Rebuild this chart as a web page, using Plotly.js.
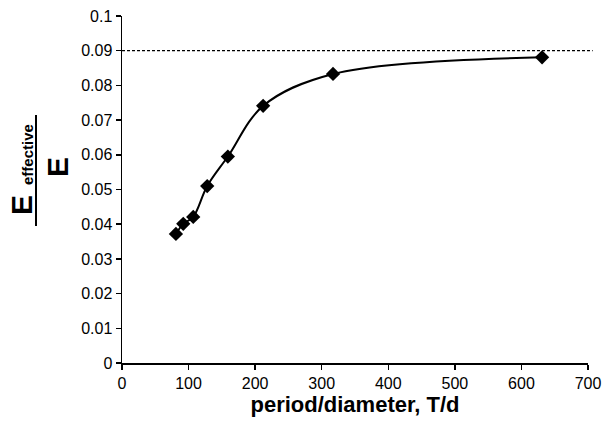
<!DOCTYPE html>
<html><head><meta charset="utf-8">
<script src="https://cdn.plot.ly/plotly-3.0.1.min.js"></script>
<style>html,body{margin:0;padding:0;background:#fff}#chart{width:602px;height:430px}</style>
</head><body><div id="chart"></div>
<script>
// Data
const periodDiameter = [81, 92, 107, 128, 159, 212, 317, 631];
const ratio = [0.0372, 0.0401, 0.0421, 0.0510, 0.0595, 0.0741, 0.0833, 0.0881];
const asymptote = 0.09;
const xTicks = [0, 100, 200, 300, 400, 500, 600, 700];
const yTicks = [0, 0.01, 0.02, 0.03, 0.04, 0.05, 0.06, 0.07, 0.08, 0.09, 0.1];

const L = 122, R = 14, T = 16, B = 67, W = 602, H = 430;
const pw = W - L - R, ph = H - T - B;
const px = p => (p - L) / pw;         // pixel -> paper x
const py = p => (H - B - p) / ph;     // pixel -> paper y

const trace = {
  x: periodDiameter, y: ratio, type: 'scatter', mode: 'lines+markers',
  line: {color: '#000', width: 2, shape: 'spline', smoothing: 1},
  marker: {symbol: 'diamond', size: 11, color: '#000'},
  hoverinfo: 'skip', showlegend: false
};

const font = {family: 'Liberation Sans, Arial, sans-serif', color: '#000'};
const layout = {
  width: W, height: H,
  margin: {l: L, r: R, t: T, b: B},
  paper_bgcolor: '#fff', plot_bgcolor: '#fff',
  showlegend: false,
  font: {family: font.family, color: '#000', size: 16},
  xaxis: {
    range: [0, 700], tickvals: xTicks, ticktext: xTicks.map(String),
    showgrid: false, zeroline: false, showline: true, linecolor: '#000', linewidth: 1.5,
    ticks: 'outside', ticklen: 5, tickcolor: '#000', tickwidth: 1.5,
    tickfont: {size: 16, family: font.family, color: '#000'},
    title: {text: '<b>period/diameter, T/d</b>', font: {size: 22, family: font.family, color: '#000'}, standoff: 6}
  },
  yaxis: {
    range: [0, 0.1], tickvals: yTicks, ticktext: yTicks.map(v => String(v)),
    showgrid: false, zeroline: false, showline: true, linecolor: '#000', linewidth: 1.5,
    ticks: 'outside', ticklen: 5, tickcolor: '#000', tickwidth: 1.5,
    tickfont: {size: 16, family: font.family, color: '#000'}
  },
  shapes: [
    {type: 'line', xref: 'paper', yref: 'y', x0: 0, x1: 1.01, y0: asymptote, y1: asymptote,
     line: {color: '#000', width: 1.2, dash: '3px,2px'}},
    {type: 'line', xref: 'paper', yref: 'paper', x0: px(36), x1: px(36), y0: py(115), y1: py(226),
     line: {color: '#000', width: 2}}
  ],
  annotations: [
    {text: '<b>E</b>', xref: 'paper', yref: 'paper', x: px(21), y: py(205), textangle: -90,
     showarrow: false, xanchor: 'center', yanchor: 'middle', font: {size: 30, family: font.family, color: '#000'}},
    {text: '<b>effective</b>', xref: 'paper', yref: 'paper', x: px(27), y: py(155), textangle: -90,
     showarrow: false, xanchor: 'center', yanchor: 'middle', font: {size: 15, family: font.family, color: '#000'}},
    {text: '<b>E</b>', xref: 'paper', yref: 'paper', x: px(57), y: py(167), textangle: -90,
     showarrow: false, xanchor: 'center', yanchor: 'middle', font: {size: 30, family: font.family, color: '#000'}}
  ]
};

Plotly.newPlot('chart', [trace], layout, {displayModeBar: false, staticPlot: true});
</script></body></html>
